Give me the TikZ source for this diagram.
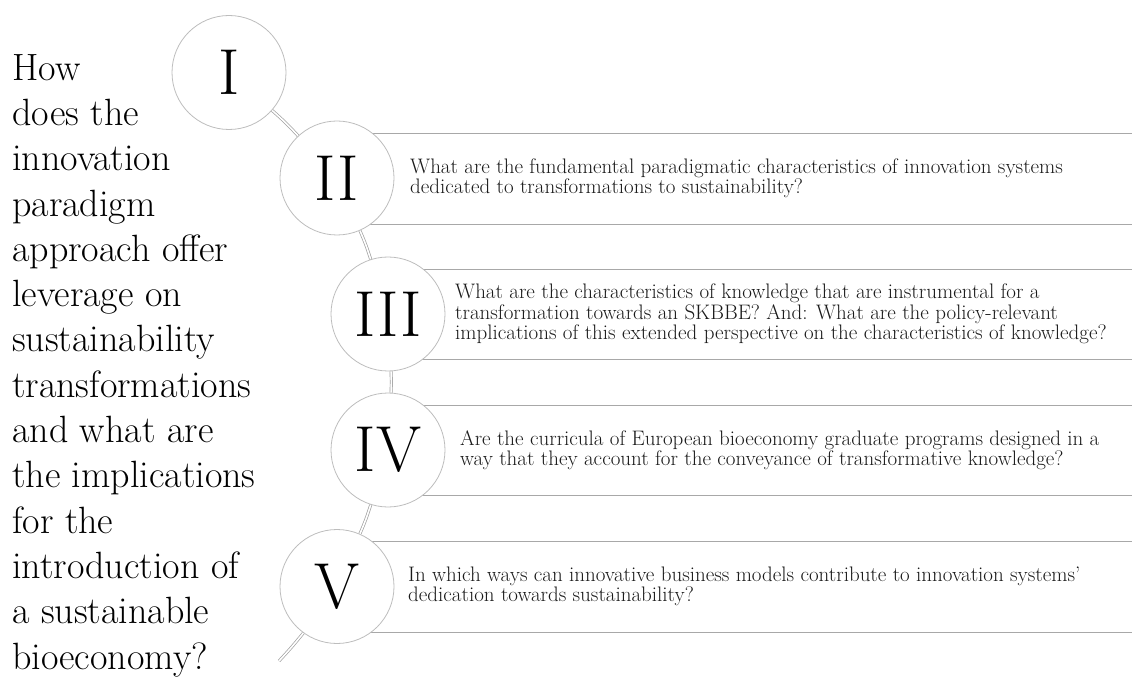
\documentclass[tikz,border=0pt]{standalone}
\usepackage{fontspec}
\usetikzlibrary{backgrounds}
\definecolor{circlegray}{HTML}{BDBDBD}
\definecolor{rulegray}{HTML}{A8A8A8}
\definecolor{conngray}{HTML}{A0A0A0}
\definecolor{textgray}{HTML}{1A1A1A}
\begin{document}
\begin{tikzpicture}[x=1pt,y=1pt,
  numcircle/.style={circle, draw=circlegray, line width=0.8pt, fill=white,
    minimum size=114pt, inner sep=0pt, font=\fontsize{65}{65}\selectfont},
  rule/.style={draw=rulegray, line width=0.9pt},
  conn/.style={draw=conngray, line width=0.7pt, double=white, double distance=1.6pt},
  question/.style={anchor=west, align=left, inner sep=0pt, text=textgray,
    font=\fontsize{21}{20.5}\selectfont},
  lead/.style={anchor=north west, align=left, inner sep=0pt, text=black,
    font=\fontsize{38}{45.3}\selectfont}]

\useasboundingbox (0,0) rectangle (1132,689);

% the guiding question
\node[lead] (lead) at (12,635) {How\\does the\\innovation\\paradigm\\approach offer\\leverage on\\sustainability\\transformations\\and what are\\the implications\\for the\\introduction of\\a sustainable\\bioeconomy?};

% numbered circles along the arc
\node[numcircle] (c1) at (229,616.5) {I};
\node[numcircle] (c2) at (337,511) {II};
\node[numcircle] (c3) at (388,375) {III};
\node[numcircle] (c4) at (388,239) {IV};
\node[numcircle] (c5) at (337,102.5) {V};
\coordinate (tail) at (279,28);

% sub-questions
\node[question] (q2) at (410,510.5) {What are the fundamental paradigmatic characteristics of innovation systems\\dedicated to transformations to sustainability?};
\node[question] (q3) at (455,375) {What are the characteristics of knowledge that are instrumental for a\\transformation towards an SKBBE? And: What are the policy-relevant\\implications of this extended perspective on the characteristics of knowledge?};
\node[question] (q4) at (460,239) {Are the curricula of European bioeconomy graduate programs designed in a\\way that they account for the conveyance of transformative knowledge?};
\node[question] (q5) at (408,102.5) {In which ways can innovative business models contribute to innovation systems’\\dedication towards sustainability?};

\begin{scope}[on background layer]
  % band rules framing each sub-question
  \foreach \c/\top/\bot in {c2/556/465, c3/420/330, c4/284/194, c5/148/57}{
    \draw[rule] (\c.center |- 0,\top) -- (1132,\top);
    \draw[rule] (\c.center |- 0,\bot) -- (1132,\bot);
  }
  % double-lined arc linking the circles
  \draw[conn] (c1) to[bend left=3] (c2);
  \draw[conn] (c2) to[bend left=3] (c3);
  \draw[conn] (c3) to[bend left=3] (c4);
  \draw[conn] (c4) to[bend left=3] (c5);
  \draw[conn] (c5) to[bend left=2] (tail);
\end{scope}
\end{tikzpicture}
\end{document}
